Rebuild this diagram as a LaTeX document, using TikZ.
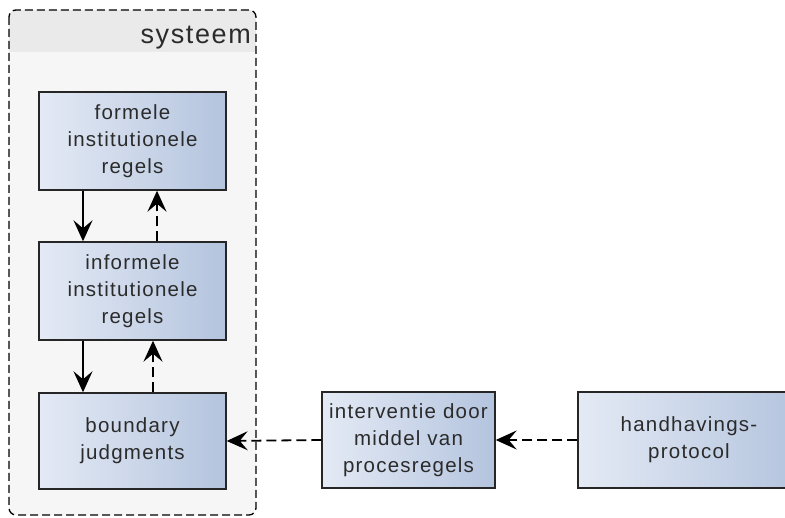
\documentclass[tikz,border=0pt]{standalone}
\usepackage{fontspec}
\setmainfont{Liberation Sans}[LetterSpace=6]
\usetikzlibrary{arrows.meta}
\definecolor{boxlight}{HTML}{E4EAF5}
\definecolor{boxdark}{HTML}{B4C4DE}
\definecolor{txt}{HTML}{2B2B2B}
\definecolor{panel}{HTML}{F6F6F6}
\definecolor{panelhead}{HTML}{EAEAEA}
\tikzset{
  blok/.style={draw=black!85, line width=1.4pt, left color=boxlight, right color=boxdark,
    align=center, text=txt, font=\fontsize{20.5}{27}\selectfont, inner sep=0pt},
  pijl/.style={-{Stealth[length=21pt,width=19pt,inset=8pt]}, line width=1.8pt},
  stippel/.style={pijl, dash pattern=on 10pt off 5pt},
}
\begin{document}
\begin{tikzpicture}[x=1pt,y=-1pt]
\useasboundingbox (0,0) rectangle (785,518);
% container "systeem"
\begin{scope}
  \clip[rounded corners=7pt] (9,10) rectangle (256,515);
  \fill[panel] (9,10) rectangle (256,515);
  \fill[panelhead] (9,10) rectangle (256,52);
\end{scope}
\draw[rounded corners=7pt, line width=1.3pt, dash pattern=on 8pt off 4pt] (9,10) rectangle (256,515);
\node[anchor=base east, text=txt, font=\fontsize{27}{30}\selectfont, inner sep=0pt] (titel) at (251,44) {systeem};
% boxes
\node[blok, minimum width=187pt, minimum height=98pt] (formeel) at (132.5,141) {formele\\institutionele\\regels};
\node[blok, minimum width=187pt, minimum height=98pt] (informeel) at (132.5,291) {informele\\institutionele\\regels};
\node[blok, minimum width=187pt, minimum height=96pt] (boundary) at (132.5,441) {boundary\\judgments};
\node[blok, minimum width=173pt, minimum height=96pt] (interventie) at (408.5,440) {interventie door\\middel van\\procesregels};
\node[blok, minimum width=222pt, minimum height=96pt] (protocol) at (689,440) {handhavings-\\protocol};
% connectors
\draw[pijl] (formeel.south -| 83,0) -- (informeel.north -| 83,0);
\draw[stippel] (informeel.north -| 157,0) -- (formeel.south -| 157,0);
\draw[pijl] (informeel.south -| 83,0) -- (boundary.north -| 83,0);
\draw[stippel] (boundary.north -| 153,0) -- (informeel.south -| 153,0);
\draw[stippel] (interventie.west) -- (boundary.east);
\draw[stippel] (protocol.west) -- (interventie.east);
\end{tikzpicture}
\end{document}
